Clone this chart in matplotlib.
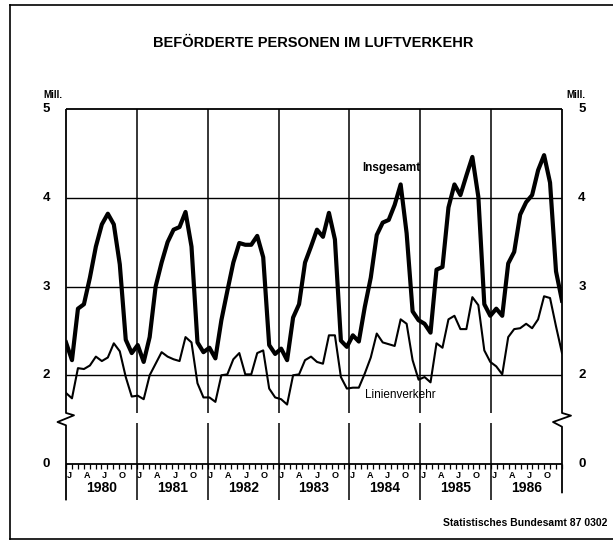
import numpy as np
import matplotlib.pyplot as plt
from matplotlib.lines import Line2D

plt.rcParams['font.family'] = ['Liberation Sans', 'DejaVu Sans']

# monthly values, Mill. passengers, Jan 1980 - Dec 1986
years = [1980, 1981, 1982, 1983, 1984, 1985, 1986]
month_labels = ['J', 'A', 'J', 'O']

insgesamt = [
    2.37, 2.17, 2.75, 2.80, 3.10, 3.45, 3.70, 3.82, 3.70, 3.25, 2.40, 2.25,  # 1980
    2.34, 2.15, 2.43, 3.00, 3.27, 3.50, 3.64, 3.67, 3.84, 3.45, 2.37, 2.26,  # 1981
    2.31, 2.19, 2.62, 2.95, 3.27, 3.49, 3.47, 3.47, 3.57, 3.33, 2.34, 2.24,  # 1982
    2.30, 2.17, 2.65, 2.80, 3.27, 3.45, 3.64, 3.56, 3.83, 3.53, 2.39, 2.32,  # 1983
    2.45, 2.38, 2.77, 3.10, 3.58, 3.72, 3.75, 3.92, 4.15, 3.60, 2.72, 2.62,  # 1984
    2.58, 2.48, 3.19, 3.22, 3.89, 4.15, 4.03, 4.25, 4.46, 4.01, 2.80, 2.67,  # 1985
    2.75, 2.67, 3.26, 3.39, 3.81, 3.95, 4.03, 4.31, 4.48, 4.17, 3.17, 2.84,  # 1986
]
linienverkehr = [
    1.80, 1.74, 2.08, 2.07, 2.11, 2.21, 2.16, 2.20, 2.36, 2.27, 1.98, 1.76,  # 1980
    1.77, 1.73, 2.00, 2.13, 2.26, 2.21, 2.18, 2.16, 2.43, 2.37, 1.91, 1.75,  # 1981
    1.75, 1.70, 2.00, 2.01, 2.18, 2.25, 2.01, 2.01, 2.25, 2.28, 1.85, 1.75,  # 1982
    1.73, 1.67, 2.00, 2.01, 2.17, 2.21, 2.15, 2.13, 2.45, 2.45, 1.98, 1.85,  # 1983
    1.86, 1.86, 2.02, 2.20, 2.47, 2.37, 2.35, 2.33, 2.63, 2.58, 2.17, 1.95,  # 1984
    1.98, 1.92, 2.36, 2.31, 2.63, 2.67, 2.52, 2.52, 2.88, 2.79, 2.28, 2.15,  # 1985
    2.10, 2.01, 2.43, 2.52, 2.53, 2.58, 2.53, 2.63, 2.89, 2.87, 2.55, 2.25,  # 1986
]

W, H = 613, 542
fig = plt.figure(figsize=(W / 100, H / 100), dpi=100)
ax = fig.add_axes([66 / W, 1 - 464 / H, 496 / W, 355 / H])
n_months = 12 * len(years)
ax.set_xlim(0, n_months)
ax.set_ylim(1.0, 5.0)  # bottom of axis carries the label "0" (broken scale)
ax.axis('off')

px = n_months / 496  # one pixel in x data units
k = dict(color='black', clip_on=False, solid_capstyle='butt')

# grid and frame of the plot
ax.hlines([2, 3, 4], 0, n_months, color='black', lw=1.0)
ax.plot([0, n_months], [5, 5], lw=1.3, **k)
ax.plot([0, n_months], [1, 1], lw=1.3, **k)
ax.vlines(np.arange(n_months + 1), 0.945, 1.0, color='black', lw=0.9, clip_on=False)

# left / right axis with break marks
ax.plot([0, 0, 8 * px, -8.5 * px, 0, 0], [5, 1.575, 1.549, 1.473, 1.436, 0.59], lw=1.3, **k)
ax.plot([n_months] * 2 + [n_months + 9 * px, n_months - 9 * px] + [n_months] * 2,
        [5, 1.575, 1.545, 1.473, 1.42, 0.67], lw=1.3, **k)

# year separators, interrupted at the break
for b in range(12, n_months, 12):
    ax.plot([b, b], [1.58, 5], lw=1.1, **k)
    ax.plot([b, b], [0.59, 1.46], lw=1.1, **k)

xs = np.arange(n_months) * n_months / (n_months - 1)
ax.plot(xs, insgesamt, color='black', lw=3.0, solid_joinstyle='round')
ax.plot(xs, linienverkehr, color='black', lw=1.5, solid_joinstyle='round')

ax.text(50.1, 4.335, 'Insgesamt', fontsize=8.5, weight='bold', ha='left', va='center')
ax.text(50.6, 1.774, 'Linienverkehr', fontsize=8.5, ha='left', va='center')

# y labels on both sides
ty = ax.get_yaxis_transform()
for val, lab in [(5, '5'), (4, '4'), (3, '3'), (2, '2'), (1, '0')]:
    ax.text(-0.0403, val, lab, transform=ty, fontsize=9.5, weight='bold', ha='center', va='center')
    ax.text(1.0403, val, lab, transform=ty, fontsize=9.5, weight='bold', ha='center', va='center')
ax.text(-23 / 496, 5.16, 'Mill.', transform=ty, fontsize=7, weight='bold', ha='left', va='center')
ax.text(1.0464, 5.16, 'Mill.', transform=ty, fontsize=7, weight='bold', ha='right', va='center')

# month and year labels
for i, yr in enumerate(years):
    for j, m in enumerate(month_labels):
        ax.text(12 * i + 3 * j + 0.5, 0.876, m, fontsize=6.5, weight='bold', ha='center', va='center')
    ax.text(12 * i + 6, 0.73, str(yr), fontsize=10, weight='bold', ha='center', va='center')

fig.text(313 / W, 1 - 43 / H, 'BEFÖRDERTE PERSONEN IM LUFTVERKEHR',
         fontsize=10.5, weight='bold', ha='center', va='center')
fig.text(607 / W, 1 - 523 / H, 'Statistisches Bundesamt 87 0302',
         fontsize=7.5, weight='bold', ha='right', va='center')

# outer frame: left, top and bottom edges (right edge lies outside the scan)
for xx, yy in [([10, 10], [5, 539]), ([10, W], [5, 5]), ([10, W], [539, 539])]:
    fig.lines.append(Line2D([x / W for x in xx], [1 - y / H for y in yy], color='black',
                            lw=1.2, transform=fig.transFigure))

fig.savefig('out.png', dpi=100)
